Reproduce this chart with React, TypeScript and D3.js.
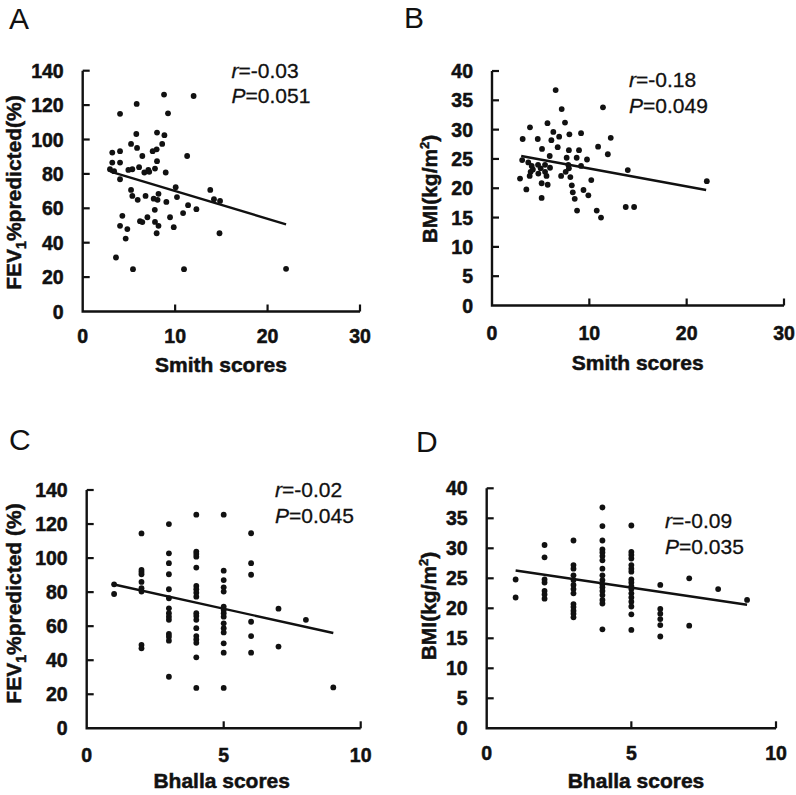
import React from "react";
import * as d3 from "d3";

// ---------- DATA ----------
const smithTicks = [0, 10, 20, 30];
const bhallaTicks = [0, 5, 10];
const fevTicks = [0, 20, 40, 60, 80, 100, 120, 140];
const bmiTicks = [0, 5, 10, 15, 20, 25, 30, 35, 40];

// Panel A: Smith scores vs FEV1 %predicted
const fevSmith: [number, number][] = [
  [8.8, 126.1], [12.0, 125.3], [5.84, 120.7], [4.04, 114.9], [9.23, 115.2], [5.8, 103.2], [8.04, 104],
  [8.84, 102.5], [5.23, 97.4], [5.88, 95.1], [8.6, 97.4], [8.0, 94.3], [7.57, 93.2], [3.2, 92.4],
  [4.04, 93.2], [6.45, 90.4], [11.3, 90.4], [8.04, 87.4], [4.04, 86.6], [3.2, 86.6], [6.1, 83.9],
  [5.37, 82.7], [4.94, 82.3], [7.1, 82.3], [7.82, 83.1], [2.95, 82.7], [3.4, 81.6], [6.67, 80.8],
  [7.2, 81.2], [8.98, 80.8], [4.04, 76.9], [5.23, 70.7], [10.06, 72.3], [10.2, 66.5], [5.37, 67.2],
  [5.95, 64.9], [6.8, 67.2], [7.68, 65.6], [8.2, 68.4], [8.1, 64.9], [9.05, 63.7], [7.8, 59.1],
  [11.4, 61.8], [12.3, 59.5], [10.86, 57.2], [4.29, 55.6], [7.0, 54.8], [9.45, 54.8], [6.2, 52.5],
  [6.45, 52.0], [7.82, 52.1], [4.04, 49.8], [8.2, 49.8], [9.85, 49], [4.83, 47.9], [8.0, 45.5],
  [4.65, 42.4], [3.6, 31.4], [5.44, 24.6], [10.96, 24.6], [13.8, 70.7], [14.2, 65.3], [14.86, 64.3],
  [14.8, 45.5], [22.0, 24.8],
];
const fitFevSmith: [number, number][] = [[3, 81.3], [22, 50.7]];

// Panel B: Smith scores vs BMI
const bmiSmith: [number, number][] = [
  [6.54, 36.75], [7.16, 33.5], [11.4, 33.8], [3.9, 30.4], [5.7, 31.1], [7.5, 31.2], [3.15, 28.4],
  [4.7, 28.4], [6.3, 29.6], [6.9, 28.8], [7.95, 29.2], [9.15, 29.4], [6.1, 28.2], [12.2, 28.6],
  [5.14, 26.7], [6.75, 27.0], [7.9, 26.5], [8.94, 26.5], [10.9, 27.1], [11.9, 25.8], [5.93, 25.5],
  [3.1, 24.8], [7.67, 25.2], [8.7, 25.2], [9.76, 24.9], [3.73, 24.4], [4.08, 23.8], [4.73, 24.0],
  [5.45, 24.0], [5.96, 23.5], [7.84, 24.0], [7.9, 23.4], [9.15, 23.8], [3.97, 22.8], [4.76, 22.5],
  [5.45, 22.8], [3.87, 22.1], [5.6, 22.1], [7.57, 22.8], [13.95, 23.1], [2.88, 21.65], [7.1, 22.1],
  [8.05, 21.9], [10.2, 21.4], [5.1, 20.85], [5.72, 20.6], [8.2, 20.5], [3.53, 19.8], [9.4, 19.7],
  [8.3, 19.3], [9.9, 18.8], [5.1, 18.35], [8.5, 18.2], [8.74, 16.2], [10.76, 16.2], [11.2, 15.0],
  [13.74, 16.8], [14.6, 16.8], [22.07, 21.2], [4.2, 23.2], [5.0, 23.4],
];
const fitBmiSmith: [number, number][] = [[3, 25.5], [22, 19.7]];

// Panel C: Bhalla scores vs FEV1 %predicted
const fevBhalla: [number, number][] = [
  [1, 84.6], [1, 78.9],
  [2, 114.5], [2, 93], [2, 91.8], [2, 90.5], [2, 86], [2, 82.3], [2, 80.3], [2, 49], [2, 47],
  [3, 120], [3, 102.8], [3, 97], [3, 90.5], [3, 81.7], [3, 76.4], [3, 70.5], [3, 67.6], [3, 65.6],
  [3, 63.7], [3, 55.4], [3, 53.8], [3, 51.5], [3, 30.3],
  [4, 125.5], [4, 103.8], [4, 102.4], [4, 100.8], [4, 94.4], [4, 83.6], [4, 81.7], [4, 79.7], [4, 77.3],
  [4, 67.6], [4, 66], [4, 63.7], [4, 58.8], [4, 54.2], [4, 52.2], [4, 50.2], [4, 41.7], [4, 23.7],
  [5, 125.5], [5, 92.6], [5, 87.1], [5, 82.8], [5, 80.3], [5, 71.5], [5, 69.5], [5, 67.6], [5, 65.6],
  [5, 61.7], [5, 58.8], [5, 56.3], [5, 49.9], [5, 44.4], [5, 23.7],
  [6, 114.6], [6, 97], [6, 90.2], [6, 62.6], [6, 54.2], [6, 44.4],
  [7, 70.3], [7, 48],
  [8, 63.7],
  [9, 24],
];
const fitFevBhalla: [number, number][] = [[1, 84.5], [9, 56]];

// Panel D: Bhalla scores vs BMI
const bmiBhalla: [number, number][] = [
  [1, 24.8], [1, 21.8],
  [2, 30.55], [2, 28.5], [2, 24.8], [2, 24.3], [2, 22.9], [2, 22.3], [2, 21.6],
  [3, 31.3], [3, 27.2], [3, 26.6], [3, 25.5], [3, 24.7], [3, 23.9], [3, 23.2], [3, 22.5], [3, 20.7],
  [3, 20.2], [3, 19.6], [3, 19.1], [3, 18.5],
  [4, 36.8], [4, 33.7], [4, 31.3], [4, 29.8], [4, 29.3], [4, 28.7], [4, 28.0], [4, 26.6], [4, 25.5],
  [4, 24.7], [4, 24.0], [4, 23.5], [4, 22.9], [4, 22.2], [4, 21.4], [4, 20.8], [4, 16.5],
  [5, 33.8], [5, 29.4], [5, 28.9], [5, 28.3], [5, 27.2], [5, 26.6], [5, 26.1], [5, 24.8], [5, 24.3],
  [5, 23.7], [5, 23.2], [5, 22.5], [5, 21.8], [5, 21.1], [5, 20.3], [5, 19.0], [5, 16.4],
  [6, 23.9], [6, 19.9], [6, 19.1], [6, 18.2], [6, 17.2], [6, 15.3],
  [7, 25], [7, 17.1],
  [8, 23.2],
  [9, 21.4],
];
const fitBmiBhalla: [number, number][] = [[1, 26.3], [9, 20.6]];

const statsR = ["-0.03", "-0.18", "-0.02", "-0.09"];
const statsP = ["0.051", "0.049", "0.045", "0.035"];
const panelLetters = ["A", "B", "C", "D"];
const xTitles = ["Smith scores", "Smith scores", "Bhalla scores", "Bhalla scores"];

// ---------- LAYOUT ----------
const FONT = "'Liberation Sans', Arial, Helvetica, sans-serif";
const INK = "#111";

type Panel = {
  letter: string; lx: number; ly: number;
  data: [number, number][]; fit: [number, number][];
  xDomain: [number, number]; xTicks: number[];
  yDomain: [number, number]; yTicks: number[];
  left: number; right: number; top: number; bottom: number;
  yTitle: "fev" | "fevSp" | "bmi"; yTitleX: number; yTitleY: number;
  xTitle: string; xTitleX: number; xTitleY: number; xTickY: number;
  r: string; p: string; statX: number; statY: number; statY2: number;
};

const panels: Panel[] = [
  {
    letter: panelLetters[0], lx: 9, ly: 29, data: fevSmith, fit: fitFevSmith,
    xDomain: [0, 30], xTicks: smithTicks, yDomain: [0, 140], yTicks: fevTicks,
    left: 82.7, right: 360, top: 70.7, bottom: 311.5,
    yTitle: "fev", yTitleX: 21, yTitleY: 192.5,
    xTitle: xTitles[0], xTitleX: 221, xTitleY: 371.5, xTickY: 343,
    r: statsR[0], p: statsP[0], statX: 231.5, statY: 78.3, statY2: 102.7,
  },
  {
    letter: panelLetters[1], lx: 404, ly: 28, data: bmiSmith, fit: fitBmiSmith,
    xDomain: [0, 30], xTicks: smithTicks, yDomain: [0, 40], yTicks: bmiTicks,
    left: 492, right: 784, top: 71, bottom: 305.5,
    yTitle: "bmi", yTitleX: 437, yTitleY: 189,
    xTitle: xTitles[1], xTitleX: 637.7, xTitleY: 370, xTickY: 340,
    r: statsR[1], p: statsP[1], statX: 629, statY: 87.3, statY2: 113.3,
  },
  {
    letter: panelLetters[2], lx: 9, ly: 450, data: fevBhalla, fit: fitFevBhalla,
    xDomain: [0, 10], xTicks: bhallaTicks, yDomain: [0, 140], yTicks: fevTicks,
    left: 86.7, right: 360.7, top: 490, bottom: 728.3,
    yTitle: "fevSp", yTitleX: 21, yTitleY: 603.5,
    xTitle: xTitles[2], xTitleX: 221.7, xTitleY: 788, xTickY: 761.5,
    r: statsR[2], p: statsP[2], statX: 275, statY: 497.3, statY2: 522.7,
  },
  {
    letter: panelLetters[3], lx: 416, ly: 451.7, data: bmiBhalla, fit: fitBmiBhalla,
    xDomain: [0, 10], xTicks: bhallaTicks, yDomain: [0, 40], yTicks: bmiTicks,
    left: 486.7, right: 776, top: 488.3, bottom: 728.3,
    yTitle: "bmi", yTitleX: 436, yTitleY: 606,
    xTitle: xTitles[3], xTitleX: 636, xTitleY: 788, xTickY: 760,
    r: statsR[3], p: statsP[3], statX: 665, statY: 528.3, statY2: 554,
  },
];

function YTitle({ kind }: { kind: Panel["yTitle"] }) {
  if (kind === "bmi") {
    return (
      <>
        BMI(kg/m<tspan fontSize={13} dy={-8}>2</tspan>
        <tspan dy={8}>)</tspan>
      </>
    );
  }
  return (
    <>
      FEV<tspan fontSize={14} dy={5}>1</tspan>
      <tspan dy={-5}>{kind === "fevSp" ? "%predicted (%)" : "%predicted(%)"}</tspan>
    </>
  );
}

const boldText = { fontFamily: FONT, fontWeight: "bold" as const, fill: INK, stroke: INK, strokeWidth: 0.5 };
const plainText = { fontFamily: FONT, fill: INK, stroke: INK, strokeWidth: 0.3 };

function PanelView({ p }: { p: Panel }) {
  const x = d3.scaleLinear().domain(p.xDomain).range([p.left, p.right]);
  const y = d3.scaleLinear().domain(p.yDomain).range([p.bottom, p.top]);
  const line = d3.line<[number, number]>().x((d) => x(d[0])).y((d) => y(d[1]));
  const tickLen = 7;
  return (
    <g>
      <text x={p.lx} y={p.ly} fontSize={30} fontFamily={FONT} fill={INK}>{p.letter}</text>
      {/* axes */}
      <path
        d={`M${x(p.xDomain[0])},${y(p.yDomain[1])}V${y(p.yDomain[0])}H${x(p.xDomain[1])}`}
        fill="none" stroke={INK} strokeWidth={2.4}
      />
      {p.yTicks.filter((t) => t !== 0).map((t) => (
        <line key={"yt" + t} x1={x(0)} x2={x(0) + tickLen} y1={y(t)} y2={y(t)} stroke={INK} strokeWidth={2.2} />
      ))}
      {p.xTicks.filter((t) => t !== 0).map((t) => (
        <line key={"xt" + t} x1={x(t)} x2={x(t)} y1={y(0)} y2={y(0) - tickLen} stroke={INK} strokeWidth={2.2} />
      ))}
      {p.yTicks.map((t) => (
        <text key={"yl" + t} x={x(0) - 19} y={y(t)} dy="0.36em" textAnchor="end"
          fontSize={19.5} {...boldText}>{t}</text>
      ))}
      {p.xTicks.map((t) => (
        <text key={"xl" + t} x={x(t)} y={p.xTickY} textAnchor="middle"
          fontSize={19.5} {...boldText}>{t}</text>
      ))}
      {/* titles */}
      <text x={p.xTitleX} y={p.xTitleY} textAnchor="middle" fontSize={21} {...boldText}>{p.xTitle}</text>
      <text transform={`translate(${p.yTitleX},${p.yTitleY}) rotate(-90)`} textAnchor="middle"
        fontSize={21} {...boldText}>
        <YTitle kind={p.yTitle} />
      </text>
      {/* points */}
      {p.data.map((d, i) => (
        <circle key={i} cx={x(d[0])} cy={y(d[1])} r={2.9} fill={INK} />
      ))}
      {/* regression line */}
      <path d={line(p.fit) || ""} fill="none" stroke={INK} strokeWidth={2.4} />
      {/* stats */}
      <text x={p.statX} y={p.statY} fontSize={21} {...plainText}>
        <tspan fontStyle="italic">r</tspan>={p.r}
      </text>
      <text x={p.statX} y={p.statY2} fontSize={21} {...plainText}>
        <tspan fontStyle="italic">P</tspan>={p.p}
      </text>
    </g>
  );
}

export default function App() {
  return (
    <svg width={796} height={795} viewBox="0 0 796 795"
      style={{ position: "absolute", left: 0, top: 0, background: "#fff" }}>
      <rect width={796} height={795} fill="#fff" />
      {panels.map((p) => (
        <PanelView key={p.letter} p={p} />
      ))}
    </svg>
  );
}
